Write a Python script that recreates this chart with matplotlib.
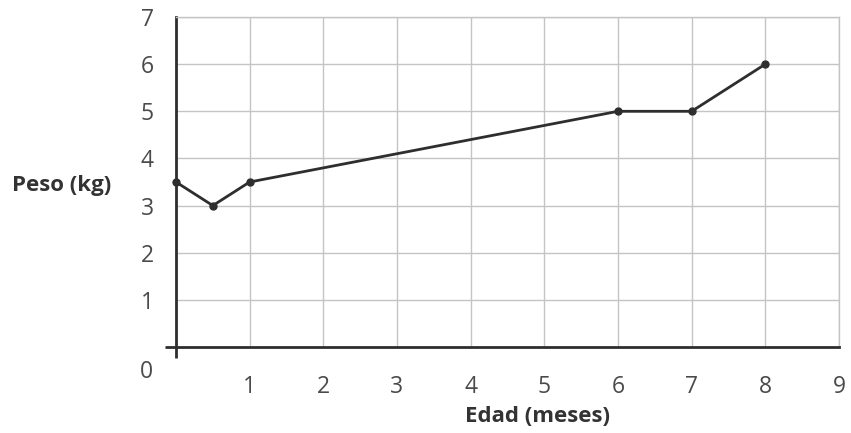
import matplotlib
matplotlib.use("Agg")
import matplotlib.pyplot as plt

# edad (meses) vs peso (kg)
edad = [0, 0.5, 1, 6, 7, 8]
peso = [3.5, 3.0, 3.5, 5.0, 5.0, 6.0]
x_ticks = [1, 2, 3, 4, 5, 6, 7, 8, 9]
y_ticks = [1, 2, 3, 4, 5, 6, 7]

plt.rcParams["font.family"] = ["Open Sans", "DejaVu Sans"]

fig = plt.figure(figsize=(8.51, 4.33), dpi=100)
ax = fig.add_axes([0.2068, 0.1986, 0.7791, 0.7621])

ax.set_xlim(0, 9)
ax.set_ylim(0, 7)
ax.set_xticks(x_ticks)
ax.set_yticks(y_ticks)
ax.set_xticks([0], minor=True)
ax.set_yticks([0], minor=True)
ax.grid(True, color="#c4c4c4", lw=1.0)
ax.set_axisbelow(True)

ax.plot(edad, peso, color="#2e2e2e", lw=2.0, marker="o", ms=5, zorder=3, clip_on=False)

for side in ("top", "right"):
    ax.spines[side].set_color("#c4c4c4")
    ax.spines[side].set_linewidth(1.0)
for side in ("left", "bottom"):
    ax.spines[side].set_color("#2e2e2e")
    ax.spines[side].set_linewidth(2.0)

ax.tick_params(which="major", length=0, labelsize=16.5, labelcolor="#4a4a4a")
ax.tick_params(axis="x", which="major", pad=20)
ax.tick_params(axis="y", which="major", pad=16)
ax.tick_params(which="minor", length=8, width=2, color="#2e2e2e", direction="out",
               labelleft=False, labelbottom=False)

ax.text(-0.044, -0.076, "0", transform=ax.transAxes, ha="center", va="center",
        fontsize=16.5, color="#4a4a4a")

ax.set_xlabel("Edad (meses)", fontsize=16, fontweight="bold", color="#333333",
              va="center")
ax.xaxis.set_label_coords(0.546, -0.212)
ax.set_ylabel("Peso (kg)", fontsize=16, fontweight="bold", color="#333333",
              rotation=0, ha="center", va="center")
ax.yaxis.set_label_coords(-0.173, 0.49)

fig.savefig("out.png", dpi=100)
plt.close(fig)
